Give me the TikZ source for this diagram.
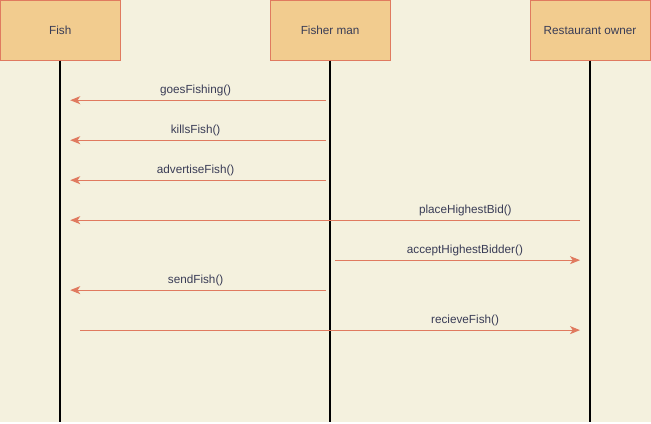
\documentclass[tikz,border=0pt]{standalone}
\usepackage{fontspec}
\setmainfont{Liberation Sans}
\usetikzlibrary{arrows.meta}
\definecolor{paper}{HTML}{F4F1DE}
\definecolor{boxfill}{HTML}{F2CC8F}
\definecolor{boxline}{HTML}{E07A5F}
\definecolor{ink}{HTML}{393C56}
\tikzset{
  actor/.style={draw=boxline, fill=boxfill, minimum width=120*0.75pt, minimum height=60*0.75pt,
    inner sep=0pt, text=ink, font=\fontsize{8.8}{10}\selectfont},
  life/.style={line width=1.5pt, black},
  msg/.style={->, draw=boxline, line width=0.75pt},
  lbl/.style={above=2pt, text=ink, font=\fontsize{8.8}{10}\selectfont, inner sep=1pt}
}
\begin{document}
\begin{tikzpicture}[x=0.75pt, y=-0.75pt, >={Stealth[length=7.5pt, width=6pt, inset=2pt]}]
    \fill[paper] (0,0) rectangle (651,422);
    % lifeline heads
    \node[actor] (fish) at (60,30) {Fish};
    \node[actor] (fisher) at (330,30) {Fisher man};
    \node[actor] (owner) at (590,30) {Restaurant owner};
    \coordinate (fishend) at (60,422);
    \coordinate (fisherend) at (330,422);
    \coordinate (ownerend) at (590,422);
    \draw[life] (fish.south) -- (fishend);
    \draw[life] (fisher.south) -- (fisherend);
    \draw[life] (owner.south) -- (ownerend);
    % message ends
    \coordinate (m1a) at (326,100); \coordinate (m1b) at (70,100);
    \coordinate (m2a) at (326,140); \coordinate (m2b) at (70,140);
    \coordinate (m3a) at (326,180); \coordinate (m3b) at (70,180);
    \coordinate (m4a) at (580,220); \coordinate (m4b) at (70,220);
    \coordinate (m5a) at (335,260); \coordinate (m5b) at (580,260);
    \coordinate (m6a) at (326,290); \coordinate (m6b) at (70,290);
    \coordinate (m7a) at (80,330); \coordinate (m7b) at (580,330);
    % messages
    \draw[msg] (m1a) -- (m1b) node[lbl, pos=0.51]{goesFishing()};
    \draw[msg] (m2a) -- (m2b) node[lbl, pos=0.51]{killsFish()};
    \draw[msg] (m3a) -- (m3b) node[lbl, pos=0.51]{advertiseFish()};
    \draw[msg] (m4a) -- (m4b) node[lbl, pos=0.225]{placeHighestBid()};
    \draw[msg] (m5a) -- (m5b) node[lbl, pos=0.53]{acceptHighestBidder()};
    \draw[msg] (m6a) -- (m6b) node[lbl, pos=0.51]{sendFish()};
    \draw[msg] (m7a) -- (m7b) node[lbl, pos=0.77]{recieveFish()};
\end{tikzpicture}
\end{document}
